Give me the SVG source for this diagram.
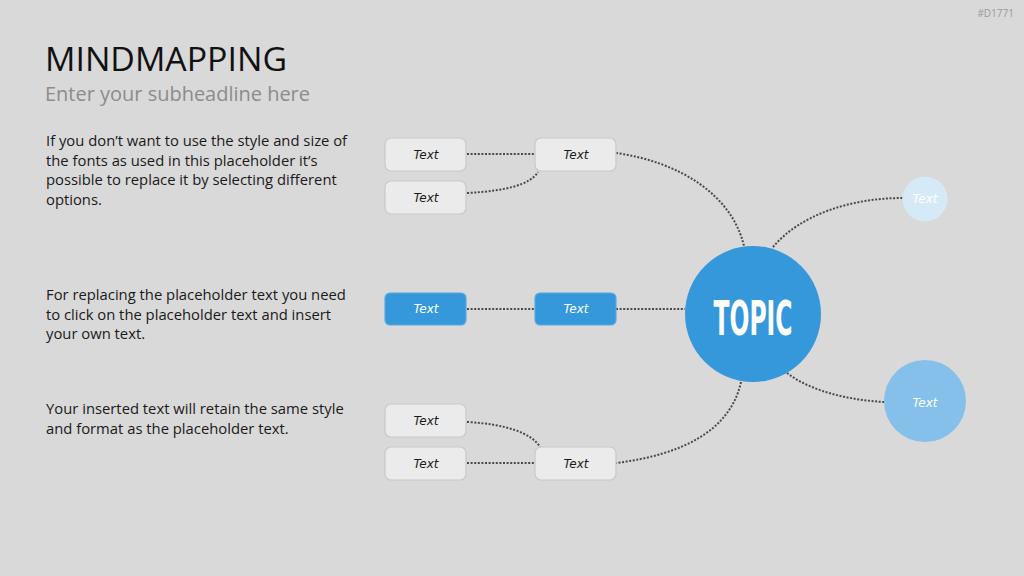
<svg xmlns="http://www.w3.org/2000/svg" width="1024" height="576" viewBox="0 0 1024 576">
<style>
.bg{fill:#d9d9d9}
.box{fill:#ebebeb;stroke:#c9c9c9;stroke-width:1.2}
.bbox{fill:#3498db;stroke:#5ba8de;stroke-width:1.2}
.lbl{font-family:"DejaVu Sans",sans-serif;font-style:italic;font-size:12px;text-anchor:middle;fill:#1a1a1a}
.wl{fill:#ffffff}
.con{fill:none;stroke:#4a4a4a;stroke-width:2;stroke-dasharray:2 1.6}
.body{font-family:"Open Sans",sans-serif;font-size:14.8px;fill:#1a1a1a}
</style>
<rect class="bg" width="1024" height="576"/>
<text x="1014" y="17" font-family="Open Sans, sans-serif" font-size="10" fill="#9a9a9a" text-anchor="end">#D1771</text>
<text x="45" y="71" font-family="Open Sans, sans-serif" font-size="33" fill="#111" textLength="242" lengthAdjust="spacingAndGlyphs">MINDMAPPING</text>
<text x="45" y="101" font-family="Open Sans, sans-serif" font-size="20" fill="#8c8c8c" textLength="265" lengthAdjust="spacingAndGlyphs">Enter your subheadline here</text>
<g id="body-text" class="body">
<text x="46" y="146">If you don’t want to use the style and size of</text>
<text x="46" y="166">the fonts as used in this placeholder it’s</text>
<text x="46" y="185">possible to replace it by selecting different</text>
<text x="46" y="205">options.</text>
<text x="46" y="300">For replacing the placeholder text you need</text>
<text x="46" y="320">to click on the placeholder text and insert</text>
<text x="46" y="339">your own text.</text>
<text x="46" y="414">Your inserted text will retain the same style</text>
<text x="46" y="434">and format as the placeholder text.</text>
</g>
<g id="connectors">
<path class="con" d="M467,154 H535"/>
<path class="con" d="M467,193 C505,191 530,185 538,172"/>
<path class="con" d="M616,153 C680,162 732,195 744,246"/>
<path class="con" d="M773,247 C800,215 850,198 903,198"/>
<path class="con" d="M467,309 H535"/>
<path class="con" d="M616,309 H685"/>
<path class="con" d="M787,373 C812,392 850,400 884,402"/>
<path class="con" d="M741,382 C730,432 680,455 616,463"/>
<path class="con" d="M467,422 C505,424 532,433 540,447"/>
<path class="con" d="M467,463 H535"/>
</g>
<g id="n1"><rect class="box" x="385" y="138" width="81" height="33" rx="6"/><text class="lbl" x="426" y="159">Text</text></g>
<g id="n2"><rect class="box" x="385" y="181" width="81" height="33" rx="6"/><text class="lbl" x="426" y="202">Text</text></g>
<g id="n3"><rect class="box" x="535" y="138" width="81" height="33" rx="6"/><text class="lbl" x="576" y="159">Text</text></g>
<g id="n4"><rect class="bbox" x="385" y="293" width="81" height="32" rx="5"/><text class="lbl wl" x="426" y="313">Text</text></g>
<g id="n5"><rect class="bbox" x="535" y="293" width="81" height="32" rx="5"/><text class="lbl wl" x="576" y="313">Text</text></g>
<g id="n6"><rect class="box" x="385" y="404" width="81" height="33" rx="6"/><text class="lbl" x="426" y="425">Text</text></g>
<g id="n7"><rect class="box" x="385" y="447" width="81" height="33" rx="6"/><text class="lbl" x="426" y="468">Text</text></g>
<g id="n8"><rect class="box" x="535" y="447" width="81" height="33" rx="6"/><text class="lbl" x="576" y="468">Text</text></g>
<g id="topic"><circle cx="753" cy="314" r="68" fill="#3498db"/><text x="753" y="335" font-family="DejaVu Sans Condensed, DejaVu Sans, sans-serif" font-weight="bold" font-size="48" fill="#ffffff" text-anchor="middle" textLength="79" lengthAdjust="spacingAndGlyphs">TOPIC</text></g>
<g id="small"><circle cx="925" cy="199" r="22.5" fill="#d6e9f7"/><text class="lbl wl" x="925" y="203" font-size="10">Text</text></g>
<g id="medium"><circle cx="925" cy="401" r="41" fill="#85c0ea"/><text class="lbl wl" x="925" y="407" font-size="15">Text</text></g>
</svg>
